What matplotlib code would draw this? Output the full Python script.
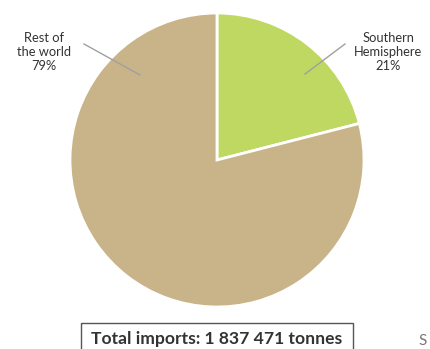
import matplotlib
matplotlib.use("Agg")
import matplotlib.pyplot as plt
from matplotlib.patches import Rectangle

plt.rcParams['font.family'] = ['Lato', 'DejaVu Sans']

categories = ["Southern\nHemisphere", "Rest of\nthe world"]
shares = [21, 79]
colors = ["#bfd862", "#c9b48a"]
total_label = "Total imports: 1 837 471 tonnes"

W, H = 430, 349
fig = plt.figure(figsize=(W / 100, H / 100), dpi=100)
fig.patch.set_facecolor("white")

def fx(px):
    return px / W

def fy(py):
    return 1 - py / H

cx, cy, r = 217, 160, 147
ax = fig.add_axes([fx(cx - r), fy(cy + r), 2 * r / W, 2 * r / H])
ax.pie(shares, colors=colors, startangle=90, counterclock=False,
       radius=1.0, wedgeprops=dict(edgecolor="white", linewidth=2))
ax.set_xlim(-1, 1)
ax.set_ylim(-1, 1)
ax.set_aspect("auto")
ax.axis("off")

# overlay axis in pixel coordinates for labels and leader lines
ov = fig.add_axes([0, 0, 1, 1])
ov.set_xlim(0, W)
ov.set_ylim(H, 0)
ov.axis("off")

ov.plot([84, 140], [44, 75], color="#a0a0a0", lw=1)
ov.plot([345, 305], [44, 74], color="#a0a0a0", lw=1)

ov.text(44, 52, f"{categories[1]}\n{shares[1]}%", ha="center", va="center",
        fontsize=9.3, color="#333333", linespacing=1.15)
ov.text(388, 52, f"{categories[0]}\n{shares[0]}%", ha="center", va="center",
        fontsize=9.3, color="#333333", linespacing=1.15)

ov.add_patch(Rectangle((80.5, 322.5), 272, 40, fill=False,
                       edgecolor="#555555", lw=1))
ov.text(217, 339, total_label, ha="center", va="center",
        fontsize=12.6, fontweight="bold", color="#333333")
ov.text(418, 341, "S", ha="left", va="center", fontsize=11, color="#777777")

fig.savefig("out.png", dpi=100)
